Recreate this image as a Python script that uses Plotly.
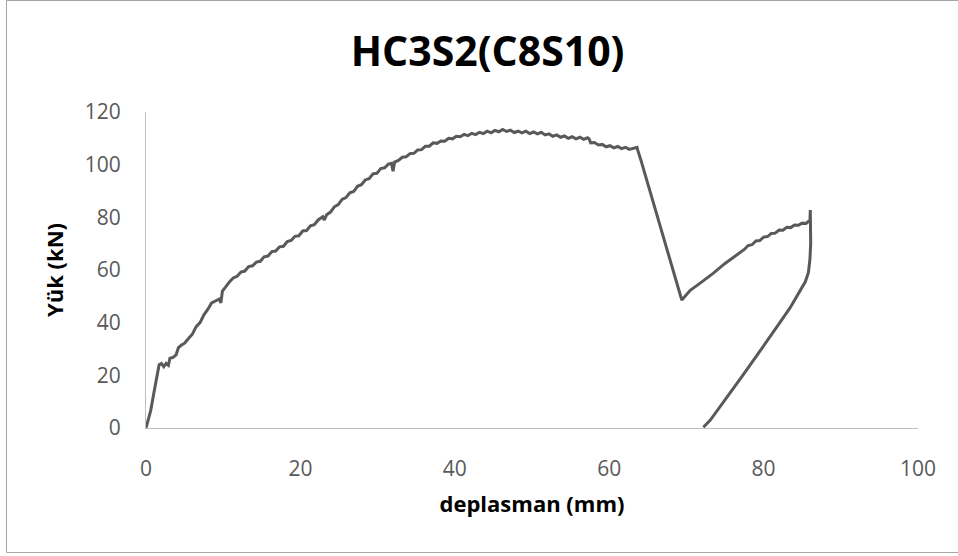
import plotly.graph_objects as go

# Load-displacement data (mm, kN)
disp_loading = [0, 0.3, 0.6, 1.0, 1.4, 1.7, 2.0, 2.3, 2.6, 2.9, 3.1, 3.5, 3.9, 4.2, 4.6,
                5.0, 5.5, 6.0, 6.5, 7.0, 7.5, 8.0, 8.5, 9.0, 9.5, 9.7, 9.9,
                10.3, 10.8, 11.3, 11.8, 12.3, 12.8, 13.3, 13.8, 14.3, 14.8, 15.3, 15.8,
                16.3, 16.8, 17.3, 17.8, 18.3, 18.8, 19.3, 19.8, 20.3, 20.8, 21.3, 21.8,
                22.3, 22.9, 23.1, 23.4, 23.9, 24.4, 24.9, 25.4, 25.9, 26.4, 26.9, 27.4,
                27.9, 28.4, 28.9, 29.4, 29.9, 30.4, 30.9, 31.4, 31.8, 32.0, 32.2, 32.7,
                33.2, 33.7, 34.2, 34.7, 35.2, 35.7, 36.2, 36.7, 37.2, 37.7, 38.2, 38.7,
                39.2, 39.7, 40.2, 40.7, 41.2, 41.7, 42.2, 42.7, 43.2, 43.7, 44.2, 44.7,
                45.2, 45.7, 46.2, 46.7, 47.2, 47.7, 48.2, 48.7, 49.2, 49.7, 50.2, 50.7,
                51.2, 51.7, 52.2, 52.7, 53.2, 53.7, 54.2, 54.7, 55.2, 55.7, 56.2, 56.7,
                57.2, 57.4, 57.6, 58.1, 58.6, 59.1, 59.6, 60.1, 60.6, 61.1, 61.6, 62.1,
                62.6, 63.1, 63.6, 63.7, 64.1]
load_loading = [0, 3, 6.5, 13, 19.5, 24, 24.5, 23.3, 24.5, 23.8, 26.5, 26.8, 27.8, 30.5, 31.5,
                32.2, 34, 35.6, 38.5, 40, 43, 45, 47.5, 48.2, 49, 47.5, 52,
                53.5, 55.5, 57, 57.6, 59.2, 59.6, 61.3, 61.6, 63, 63.3, 65, 65.3,
                67, 67.2, 68.8, 69, 70.8, 71.2, 72.8, 73, 74.8, 75, 76.8, 77.2,
                79, 80.2, 79, 81, 82, 84, 84.8, 86.8, 87.5, 89.3, 89.8, 91.8,
                92.4, 94.2, 94.7, 96.5, 96.7, 98.5, 98.8, 100.2, 100.5, 97.5, 101, 101.6,
                102.8, 103, 104.2, 104.3, 105.6, 105.7, 107, 107, 108.3, 108.1, 109, 108.9,
                110, 109.8, 110.8, 110.6, 111.5, 111, 111.9, 111.4, 112.3, 111.8, 112.7, 112.1,
                113, 112.5, 113.4, 112.6, 113.1, 112.2, 112.7, 112.1, 112.7, 111.8, 112.4, 111.7,
                112.3, 111.3, 111.7, 110.8, 111.3, 110.4, 110.9, 110, 110.6, 109.8, 110.4, 109.6,
                110.2, 109.8, 108.3, 108.4, 107.5, 107.7, 106.8, 107.2, 106.4, 106.9, 106.1, 106.6,
                105.8, 106.3, 106.6, 105.5, 101.8]

disp_drop_reload = [69.4, 70.5, 72, 73.5, 75, 76.9, 77.5, 78, 78.5, 79, 79.5, 80, 80.5, 81,
                    81.5, 82, 82.5, 83, 83.5, 84, 84.5, 85, 85.5, 85.8, 86.0,
                    86.05, 86.1, 86.1, 86.0, 85.8, 85.4, 84.6, 83.4, 82.1, 80.6, 79, 77.3,
                    75.6, 74.2, 73.1, 72.2]
load_drop_reload = [48.6, 52.3, 55.5, 58.8, 62.5, 66.8, 67.8, 69.3, 69.6, 71, 71.2, 72.5, 72.7, 73.9,
                    74, 75.2, 75.1, 76.2, 76.1, 77.1, 77, 77.8, 77.7, 78.4, 78.8,
                    82.8, 78, 70, 64, 59, 55.5, 51.5, 45.5, 40, 33.5, 27, 20, 13, 7.5, 3, 0.3]

x_vals = disp_loading + disp_drop_reload
y_vals = load_loading + load_drop_reload

x_ticks = [0, 20, 40, 60, 80, 100]
y_ticks = [0, 20, 40, 60, 80, 100, 120]

FONT = "Open Sans"

fig = go.Figure()
fig.add_trace(go.Scatter(x=x_vals, y=y_vals, mode="lines",
                         line=dict(color="#595959", width=3), showlegend=False))

fig.update_layout(
    width=958, height=556,
    margin=dict(l=146, r=40, t=112, b=128),
    paper_bgcolor="white", plot_bgcolor="white",
    title=dict(text="<b>HC3S2(C8S10)</b>", x=0.509, xanchor="center",
               y=1 - 52 / 556, yanchor="middle", yref="container",
               font=dict(family=FONT, size=41, color="#000000")),
    xaxis=dict(range=[0, 100], tickvals=x_ticks, showgrid=False, zeroline=False,
               showline=True, linecolor="#bfbfbf", linewidth=1,
               ticks="outside", ticklen=22, tickcolor="rgba(0,0,0,0)",
               tickfont=dict(family=FONT, size=21, color="#595959"),
               title=dict(text="<b>deplasman (mm)</b>", standoff=15,
                          font=dict(family=FONT, size=22, color="#000000"))),
    yaxis=dict(range=[0, 120], tickvals=y_ticks, showgrid=False, zeroline=False,
               showline=True, linecolor="#bfbfbf", linewidth=1,
               ticks="outside", ticklen=20, tickcolor="rgba(0,0,0,0)",
               tickfont=dict(family=FONT, size=21, color="#595959"),
               title=dict(text="<b>Yük (kN)</b>", standoff=15,
                          font=dict(family=FONT, size=22, color="#000000"))),
    shapes=[dict(type="rect", xref="paper", yref="paper",
                 x0=(6.5 - 146) / 772, x1=(960 - 146) / 772,
                 y0=(428 - 552.5) / 316, y1=(428 - 0.5) / 316,
                 line=dict(color="#a6a6a6", width=1), fillcolor="rgba(0,0,0,0)",
                 layer="below")],
)

fig.write_html("out.html")
